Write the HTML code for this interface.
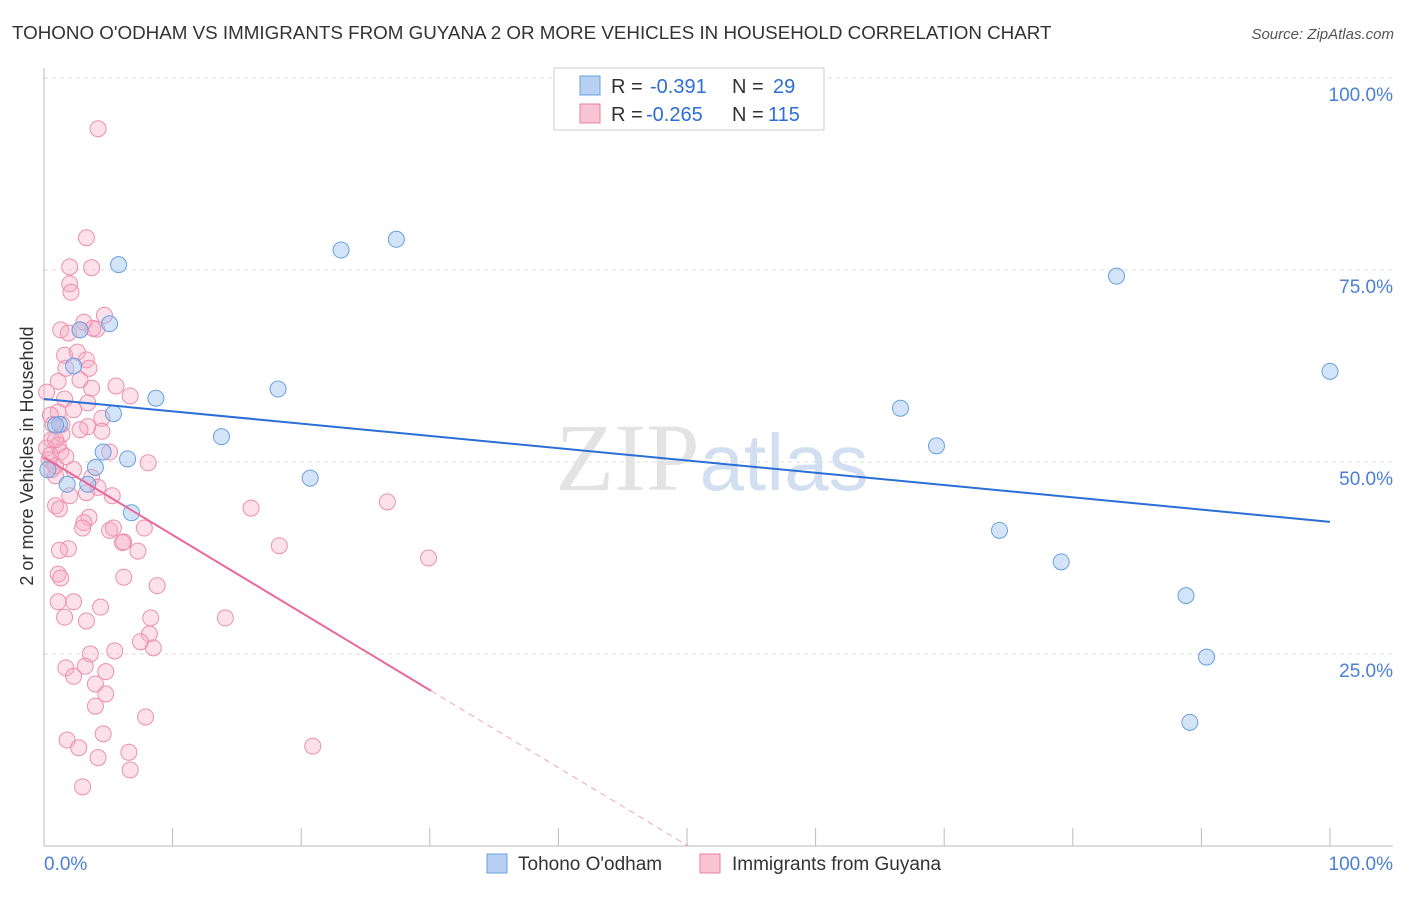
<!DOCTYPE html>
<html><head><meta charset="utf-8"><style>
body{margin:0;background:#fff;font-family:"Liberation Sans",sans-serif;}
</style></head><body>
<svg id="chart" width="1406" height="892" xmlns="http://www.w3.org/2000/svg" style="font-family:'Liberation Sans',sans-serif">
<text x="12" y="39" font-size="18.8" fill="#333">TOHONO O'ODHAM VS IMMIGRANTS FROM GUYANA 2 OR MORE VEHICLES IN HOUSEHOLD CORRELATION CHART</text>
<text x="1394" y="39" font-size="15" fill="#555" text-anchor="end" font-style="italic">Source: ZipAtlas.com</text>
<text x="712" y="490" font-size="96" fill="#ddd" text-anchor="middle" font-family="Liberation Serif,serif" opacity="0.8">ZIP<tspan fill="#c8d8ee" font-family="Liberation Sans,sans-serif" font-size="80">atlas</tspan></text>
<text transform="translate(33,456) rotate(-90)" font-size="18" fill="#333" text-anchor="middle">2 or more Vehicles in Household</text>
<g id="grid"></g><g id="axes"></g><g id="marks"></g>
<g>
<rect x="554" y="68" width="270" height="62" fill="#fff" stroke="#ccc"/>
<rect x="580" y="76" width="20" height="19" fill="#b8d0f2" stroke="#6a9fe0"/>
<rect x="580" y="104" width="20" height="19" fill="#f8c4d4" stroke="#e87fa0"/>
<text x="611" y="93" font-size="20" fill="#333">R =</text>
<text x="650" y="93" font-size="20" fill="#2b6fd6">-0.391</text>
<text x="732" y="93" font-size="20" fill="#333">N =</text>
<text x="773" y="93" font-size="20" fill="#2b6fd6">29</text>
<text x="611" y="121" font-size="20" fill="#333">R =</text>
<text x="646" y="121" font-size="20" fill="#2b6fd6">-0.265</text>
<text x="732" y="121" font-size="20" fill="#333">N =</text>
<text x="768" y="121" font-size="20" fill="#2b6fd6">115</text>
</g>
<g>
<rect x="487" y="854" width="20" height="19" fill="#b8d0f2" stroke="#6a9fe0"/>
<text x="518" y="870" font-size="19" fill="#333">Tohono O'odham</text>
<rect x="700" y="854" width="20" height="19" fill="#f8c4d4" stroke="#e87fa0"/>
<text x="732" y="870" font-size="19" fill="#333">Immigrants from Guyana</text>
</g>
</svg>
<script>
const yTicks=[25,50,75,100];
const yTickLabels=["25.0%","50.0%","75.0%","100.0%"];
const xTickVals=[0,10,20,30,40,50,60,70,80,90,100];
const blueX=[5.8,23.1,27.4,5.1,2.8,2.3,8.7,18.2,5.4,13.8,1.2,4.6,6.5,4.0,1.8,3.4,20.7,6.8,66.6,69.4,83.4,100,74.3,79.1,88.8,90.4,89.1,0.9,0.3];
const blueY=[75.7,77.6,79.0,68.0,67.2,62.5,58.3,59.5,56.3,53.3,54.9,51.3,50.4,49.3,47.1,47.1,47.9,43.4,57.0,52.1,74.2,61.8,41.1,37.0,32.6,24.6,16.1,54.8,49.0];
const pinkX=[4.2,3.3,2.0,3.7,2.0,2.1,4.7,3.1,1.3,4.1,1.9,3.8,2.8,1.6,2.6,3.3,3.5,1.7,1.1,5.6,3.7,2.8,0.2,1.6,6.7,3.4,1.1,4.5,2.3,0.5,0.7,3.4,2.8,1.4,4.5,0.6,1.1,0.2,1.3,5.1,0.4,2.3,8.1,0.6,0.9,3.7,4.2,3.3,2.0,5.3,0.9,1.2,3.5,3.1,5.1,3.0,5.4,7.8,16.1,26.7,6.2,6.1,7.3,1.9,1.2,18.3,29.9,6.2,1.1,1.3,8.8,2.3,4.4,1.1,1.6,3.3,8.3,14.1,8.2,8.5,7.5,3.6,5.5,1.7,3.2,2.3,4.8,4.0,4.8,4.0,7.9,4.6,1.8,2.7,6.6,4.2,20.9,6.7,3.0,0.9,1.4,0.5,0.9,1.7];
const pinkY=[93.4,79.2,75.4,75.3,73.2,72.1,69.1,68.2,67.2,67.3,66.8,67.4,67.2,63.9,64.3,63.3,62.2,62.2,60.5,59.9,59.6,60.7,59.1,58.2,58.6,57.7,56.5,55.7,56.8,56.1,54.9,54.6,54.2,53.6,54.0,52.9,52.2,51.8,51.3,51.3,50.3,49.0,49.9,49.0,48.2,48.0,46.7,46.0,45.6,45.6,44.3,43.9,42.8,42.1,41.1,41.4,41.4,41.4,44.0,44.8,39.6,39.5,38.4,38.7,38.5,39.1,37.5,35.0,35.4,34.9,33.9,31.8,31.1,31.8,29.8,29.3,29.7,29.7,27.6,25.8,26.6,25.0,25.4,23.2,23.4,22.1,22.7,21.1,19.8,18.2,16.8,14.6,13.8,12.8,12.2,11.5,13.0,9.9,7.7,52.9,54.9,50.9,49.5,50.7];
const blueTrend=[58.2,42.2];
const pinkTrend=[50.6,-1.01];
const X0=44,X1=1330,Y0=846,PXY=7.68;
const xs=v=>X0+(X1-X0)*v/100;
const ys=v=>Y0-v*PXY;
const NS="http://www.w3.org/2000/svg";
function mk(t,a,p){const e=document.createElementNS(NS,t);for(const k in a)e.setAttribute(k,a[k]);p.appendChild(e);return e;}
const grid=document.getElementById('grid'),axes=document.getElementById('axes'),marks=document.getElementById('marks');
yTicks.forEach((v,i)=>{
 const l=mk('line',{x1:X0,x2:1393,y1:ys(v),y2:ys(v),stroke:'#ddd','stroke-dasharray':'4,4'},grid);
 
 
 const t=mk('text',{x:1393,y:ys(v)+23,'font-size':19,fill:'#4a7fd6','text-anchor':'end'},axes);
 t.textContent=yTickLabels[i];
 
 
});
mk('line',{x1:X0,x2:X0,y1:68,y2:Y0,stroke:'#bbb'},axes);
mk('line',{x1:X0,x2:1393,y1:Y0,y2:Y0,stroke:'#bbb'},axes);
xTickVals.forEach(v=>{
 const l=mk('line',{x1:xs(v),x2:xs(v),y1:Y0-18,y2:Y0,stroke:'#bbb'},axes);
 
 
});
const xl=mk('text',{x:44,y:870,'font-size':19,fill:'#4a7fd6'},axes);xl.textContent='0.0%';


const xr=mk('text',{x:1393,y:870,'font-size':19,fill:'#4a7fd6','text-anchor':'end'},axes);xr.textContent='100.0%';


pinkX.forEach((x,i)=>{
 const c=mk('circle',{cx:xs(x),cy:ys(pinkY[i]),r:8,fill:'rgba(245,170,195,0.35)',stroke:'#ec8fae','stroke-width':1},marks);
 
 
});
blueX.forEach((x,i)=>{
 const c=mk('circle',{cx:xs(x),cy:ys(blueY[i]),r:8,fill:'rgba(160,195,240,0.45)',stroke:'#6a9fe0','stroke-width':1},marks);
 
 
});
const bt=mk('line',{x1:xs(0),y1:ys(blueTrend[0]),x2:xs(100),y2:ys(blueTrend[1]),stroke:'#2b6fd6','stroke-width':2},marks);


const pe=30.1,pz=-pinkTrend[0]/pinkTrend[1];
const pt=mk('line',{x1:xs(0),y1:ys(pinkTrend[0]),x2:xs(pe),y2:ys(pinkTrend[0]+pinkTrend[1]*pe),stroke:'#e8699a','stroke-width':2},marks);


const pd=mk('line',{x1:xs(pe),y1:ys(pinkTrend[0]+pinkTrend[1]*pe),x2:xs(pz),y2:ys(0),stroke:'#e8699a','stroke-width':1,'stroke-dasharray':'6,5',opacity:0.6},marks);


</script>
</body></html>
